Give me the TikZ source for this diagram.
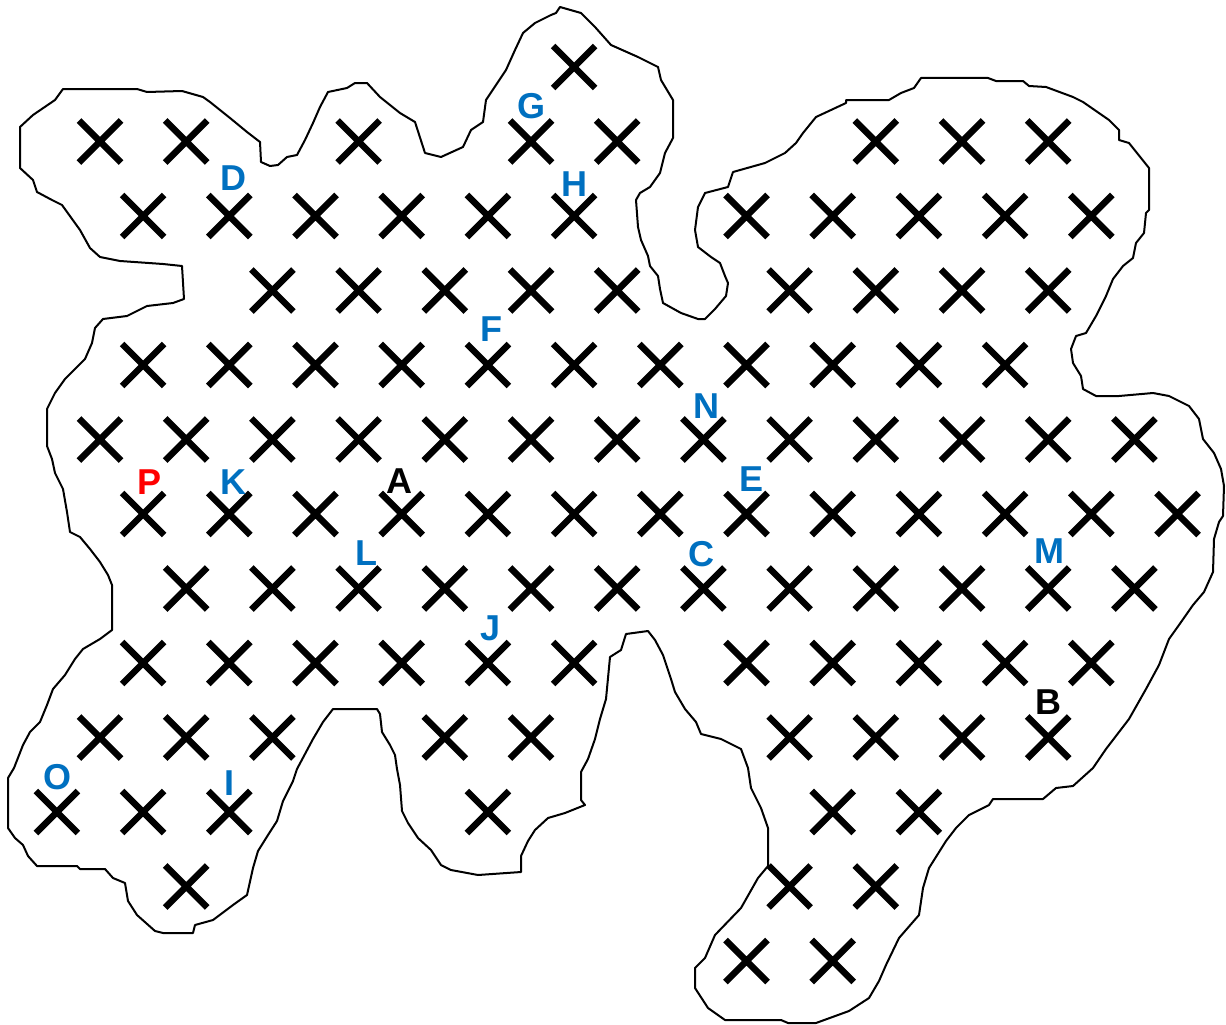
\documentclass[tikz,border=0pt]{standalone}
\usepackage{fontspec}
\setmainfont{Liberation Sans}
\usetikzlibrary{shapes.misc}
\definecolor{lblblue}{HTML}{0070C0}
\definecolor{lblred}{HTML}{FF0000}
\begin{document}
\begin{tikzpicture}[x=1pt,y=-1pt,
  xmark/.style={cross out, draw=black, line width=6.5pt, minimum size=35.5pt, inner sep=0pt},
  lbl/.style={font=\fontsize{36}{40}\selectfont\bfseries, inner sep=0pt, text=lblblue},
  outline/.style={draw=black, line width=2pt, line join=round}]
\useasboundingbox (0,0) rectangle (1226,1025);
\fill[white] (0,0) rectangle (1226,1025);
% outline of the region
\draw[outline] (20,127) -- (33,115) -- (55,100) -- (63,89) -- (137,89) -- (147,92) -- (182,91) -- (203,97) -- (210,102) -- (230,118) -- (247,132) -- (260,142) -- (261,162) -- (270,166) -- (278,165) -- (287,157) -- (297,155) -- (305,140) -- (313,123) -- (320,107) -- (328,92) -- (347,88) -- (355,83) -- (367,83) -- (380,97) -- (400,113) -- (415,122) -- (425,153) -- (441,157) -- (463,147) -- (471,130) -- (483,122) -- (486,100) -- (496,85) -- (506,70) -- (515,50) -- (523,33) -- (535,23) -- (551,15) -- (556,13) -- (560,7) -- (581,13) -- (595,27) -- (611,45) -- (638,57) -- (658,67) -- (661,80) -- (673,100) -- (673,138) -- (665,153) -- (660,173) -- (650,187) -- (640,193) -- (636,200) -- (638,227) -- (641,240) -- (648,256) -- (650,266) -- (658,276) -- (660,289) -- (663,303) -- (681,313) -- (698,319) -- (705,319) -- (715,309) -- (726,296) -- (728,283) -- (725,276) -- (720,263) -- (711,257) -- (698,247) -- (695,230) -- (698,207) -- (705,193) -- (728,187) -- (733,172) -- (765,163) -- (785,153) -- (796,143) -- (803,133) -- (816,117) -- (846,103) -- (846,100) -- (889,100) -- (901,93) -- (914,88) -- (921,78) -- (988,78) -- (996,81) -- (1023,81) -- (1029,86) -- (1046,87) -- (1073,97) -- (1083,102) -- (1109,120) -- (1119,130) -- (1119,140) -- (1129,143) -- (1149,168) -- (1149,210) -- (1146,213) -- (1144,233) -- (1136,243) -- (1133,258) -- (1123,266) -- (1113,279) -- (1106,296) -- (1096,316) -- (1086,333) -- (1076,336) -- (1071,349) -- (1073,363) -- (1081,376) -- (1083,389) -- (1096,396) -- (1119,396) -- (1153,393) -- (1169,396) -- (1189,406) -- (1199,419) -- (1203,439) -- (1214,453) -- (1221,469) -- (1224,486) -- (1223,516) -- (1219,522) -- (1214,539) -- (1213,572) -- (1204,592) -- (1193,605) -- (1179,625) -- (1169,639) -- (1159,665) -- (1146,689) -- (1129,719) -- (1106,749) -- (1093,768) -- (1073,786) -- (1056,788) -- (1043,799) -- (993,799) -- (989,805) -- (969,815) -- (956,828) -- (946,841) -- (929,868) -- (923,888) -- (919,915) -- (899,938) -- (886,965) -- (879,981) -- (869,998) -- (849,1011) -- (816,1023) -- (788,1023) -- (781,1020) -- (725,1020) -- (708,1008) -- (695,988) -- (695,968) -- (705,958) -- (715,935) -- (741,908) -- (758,878) -- (768,866) -- (768,828) -- (761,808) -- (751,788) -- (748,768) -- (741,749) -- (721,739) -- (701,734) -- (696,722) -- (685,709) -- (675,692) -- (671,679) -- (663,655) -- (655,640) -- (648,631) -- (626,634) -- (621,650) -- (610,657) -- (606,699) -- (600,719) -- (595,739) -- (588,759) -- (581,772) -- (581,800) -- (585,805) -- (565,813) -- (548,818) -- (535,830) -- (528,841) -- (521,856) -- (521,872) -- (478,875) -- (451,870) -- (441,865) -- (431,850) -- (418,838) -- (408,823) -- (402,811) -- (400,785) -- (397,769) -- (395,755) -- (390,745) -- (382,732) -- (380,714) -- (377,709) -- (333,709) -- (323,722) -- (313,739) -- (297,769) -- (293,781) -- (283,801) -- (277,821) -- (268,835) -- (258,851) -- (253,868) -- (247,895) -- (233,905) -- (213,920) -- (195,925) -- (193,933) -- (163,933) -- (155,931) -- (137,915) -- (128,901) -- (125,883) -- (113,878) -- (105,869) -- (80,869) -- (77,866) -- (37,866) -- (28,856) -- (23,845) -- (15,838) -- (8,828) -- (8,778) -- (14,768) -- (23,745) -- (30,732) -- (40,722) -- (47,705) -- (53,689) -- (65,675) -- (75,659) -- (83,649) -- (100,639) -- (112,630) -- (112,585) -- (108,575) -- (100,562) -- (90,549) -- (80,537) -- (70,532) -- (67,512) -- (63,489) -- (55,473) -- (52,459) -- (47,446) -- (47,409) -- (55,393) -- (65,379) -- (85,359) -- (92,343) -- (95,328) -- (103,319) -- (127,316) -- (147,306) -- (173,303) -- (184,299) -- (182,266) -- (163,264) -- (120,261) -- (100,257) -- (90,248) -- (80,230) -- (62,205) -- (52,200) -- (37,192) -- (33,180) -- (20,168) -- cycle;
% cross marks on the grid
\foreach \r/\ks in {0/{12},
  1/{1,3,7,11,13,19,21,23},
  2/{2,4,6,8,10,12,16,18,20,22,24},
  3/{5,7,9,11,13,17,19,21,23},
  4/{2,4,6,8,10,12,14,16,18,20,22},
  5/{1,3,5,7,9,11,13,15,17,19,21,23,25},
  6/{2,4,6,8,10,12,14,16,18,20,22,24,26},
  7/{3,5,7,9,11,13,15,17,19,21,23,25},
  8/{2,4,6,8,10,12,16,18,20,22,24},
  9/{1,3,5,9,11,17,19,21,23},
  10/{0,2,4,10,18,20},
  11/{3,17,19},
  12/{16,18}}{
  \foreach \k in \ks {
    \node[xmark] (x\r-\k) at ({56.9+43.1*\k},{67+74.5*\r}) {};
  }
}
% labels
\node[lbl] (lG) at (531,106) {G};
\node[lbl] (lH) at (574,184) {H};
\node[lbl] (lD) at (233,178) {D};
\node[lbl] (lF) at (491,329) {F};
\node[lbl] (lN) at (706,406) {N};
\node[lbl, text=lblred] (lP) at (150,482) {P};
\node[lbl] (lK) at (233,482) {K};
\node[lbl, text=black] (lA) at (399,481) {A};
\node[lbl] (lE) at (751,479) {E};
\node[lbl] (lL) at (366,553) {L};
\node[lbl] (lC) at (701,554) {C};
\node[lbl] (lM) at (1049,551) {M};
\node[lbl] (lJ) at (491,628) {J};
\node[lbl, text=black] (lB) at (1048,702) {B};
\node[lbl] (lO) at (58,777) {O};
\node[lbl] (lI) at (229,783) {I};
\end{tikzpicture}
\end{document}
